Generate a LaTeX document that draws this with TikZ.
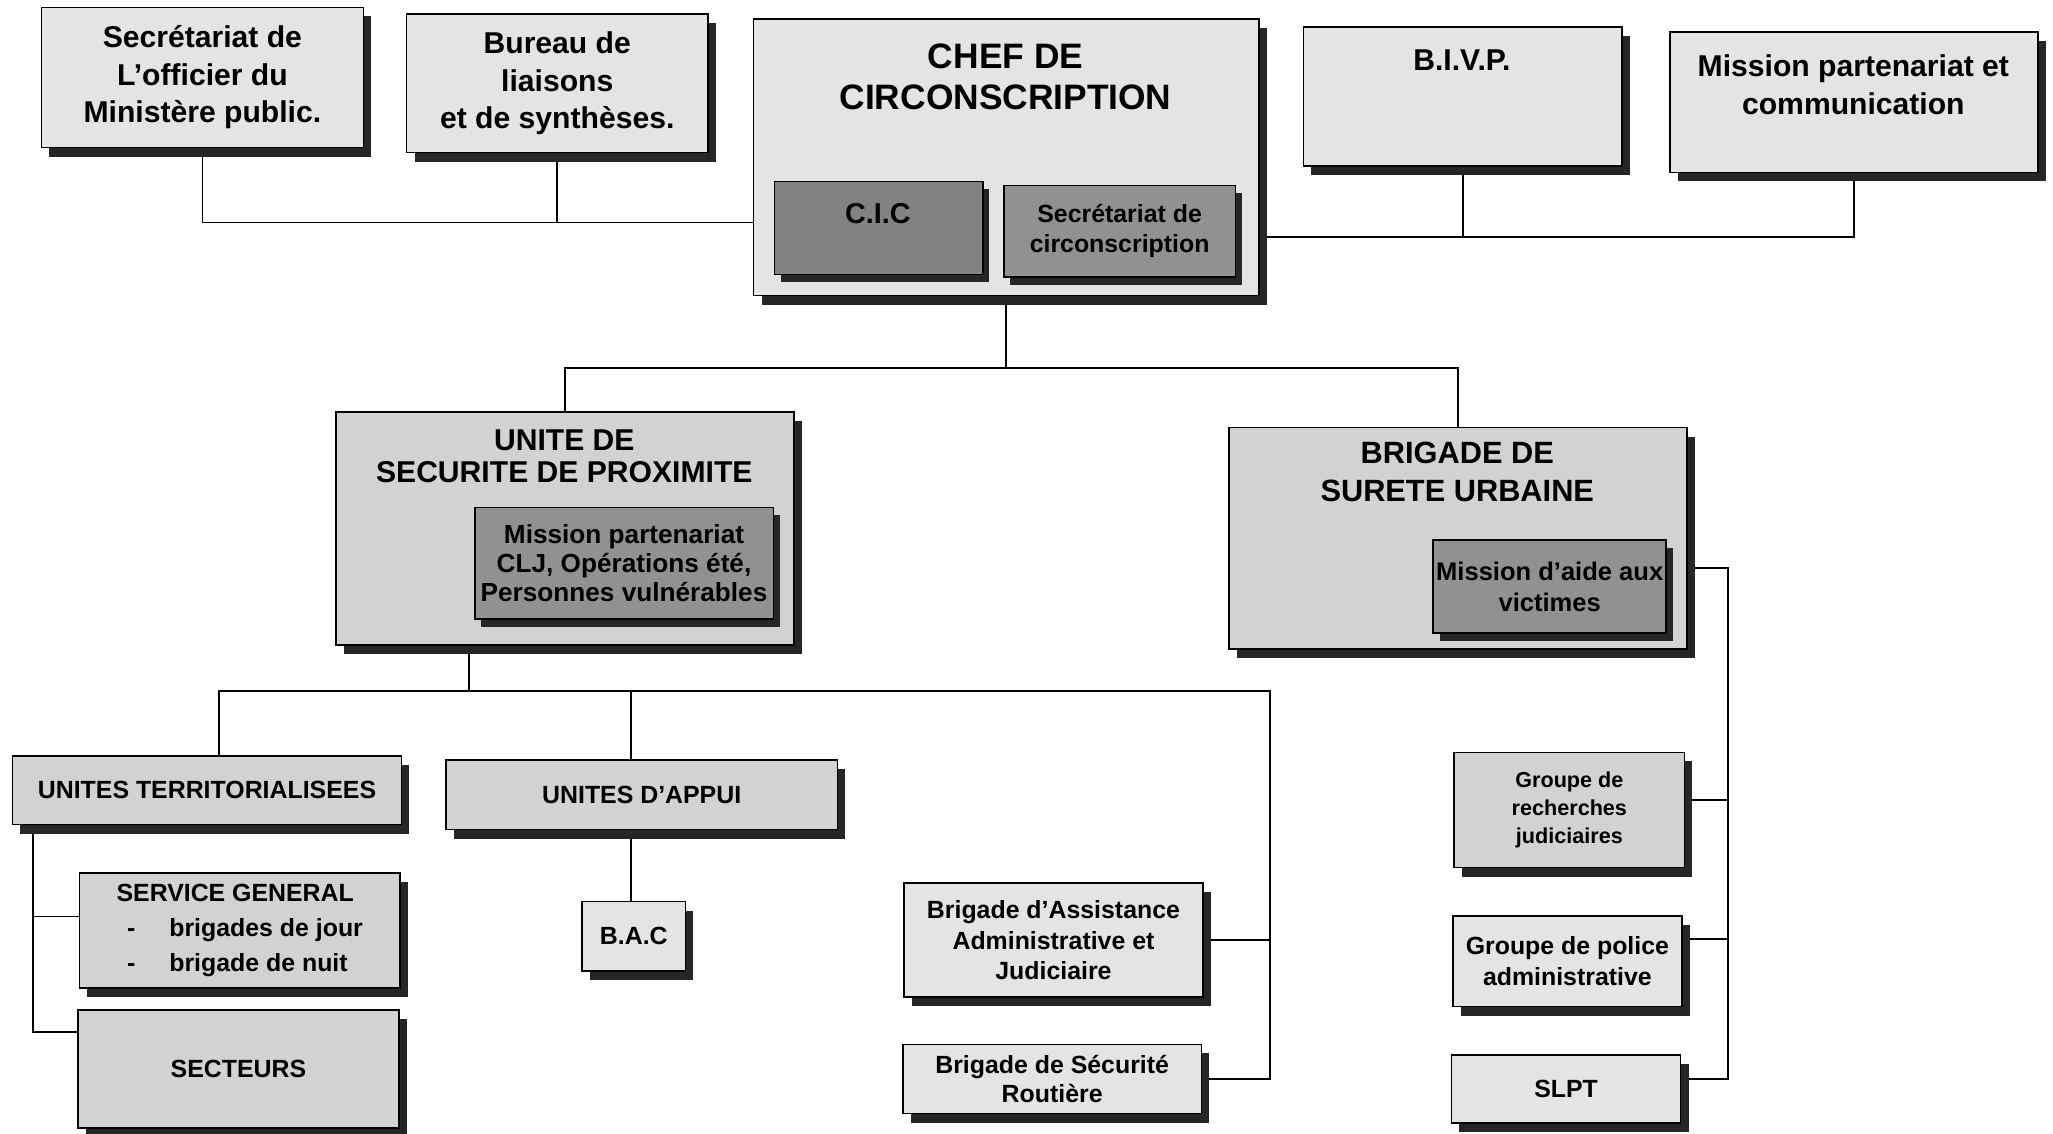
\documentclass[tikz,border=0pt]{standalone}
\usepackage{fontspec}
\setmainfont{Liberation Sans}
\usetikzlibrary{shadows,calc}
\pgfdeclarelayer{bg}
\pgfsetlayers{bg,main}
\definecolor{boxA}{RGB}{228,228,228}
\definecolor{boxB}{RGB}{210,210,210}
\definecolor{boxIn}{RGB}{145,145,145}
\newcommand\myfs[2]{\bfseries\fontsize{#1}{#2}\selectfont}
\tikzset{
  base/.style={draw=black, line width=1.2pt, anchor=north west, inner sep=2pt, align=center, text=black},
  shad/.style={drop shadow={shadow xshift=6pt,shadow yshift=-7pt,fill=black!85,opacity=1}},
  lbox/.style={base, shad, fill=boxA, font=\myfs{19}{23.5}},
  dbox/.style={base, shad, fill=boxB, font=\myfs{19}{23.5}},
  ibox/.style={base, drop shadow={shadow xshift=5pt,shadow yshift=-6pt,fill=black!85,opacity=1}, fill=boxIn, font=\myfs{19}{23}},
  lbl/.style={inner sep=0pt, align=center, font=\myfs{23}{29}},
  link/.style={line width=1.3pt, draw=black},
}
\begin{document}
\begin{tikzpicture}[x=1pt,y=-1pt]
\clip (0,0) rectangle (1568,866);
% top row
\node[lbox, minimum width=246pt, minimum height=107pt, font=\myfs{23}{28.5}] (A) at (31,5) {Secrétariat de\\L’officier du\\Ministère public.};
\node[lbox, minimum width=230pt, minimum height=106pt, font=\myfs{23}{28.5}] (B) at (310,10) {Bureau de\\liaisons\\et de synthèses.};
\node[lbox, minimum width=386pt, minimum height=211pt] (chef) at (575,14) {};
\node[lbl, font=\myfs{27}{31}] (chefT) at (768,58.5) {CHEF DE\\CIRCONSCRIPTION};
\node[ibox, fill=boxIn!90!black, minimum width=159pt, minimum height=71pt] (cic) at (591,138) {};
\node[lbl, font=\myfs{22}{26}] (cicT) at (670.5,163) {C.I.C};
\node[ibox, minimum width=177pt, minimum height=70pt] (secc) at (766,141) {Secrétariat de\\circonscription};
\node[lbox, minimum width=243pt, minimum height=106pt] (bivp) at (995,20) {};
\node[lbl] (bivpT) at (1116.5,46) {B.I.V.P.};
\node[lbox, minimum width=281pt, minimum height=107pt] (mpc) at (1275,24) {};
\node[lbl] (mpcT) at (1415.5,64.5) {Mission partenariat et\\communication};
% second level
\node[dbox, minimum width=350pt, minimum height=178pt] (usp) at (256,314) {};
\node[lbl, font=\myfs{23}{24}] (uspT) at (431,348.5) {UNITE DE\\SECURITE DE PROXIMITE};
\node[ibox, minimum width=228pt, minimum height=85pt, font=\myfs{20}{22}] (uspI) at (362,387) {Mission partenariat\\CLJ, Opérations été,\\Personnes vulnérables};
\node[dbox, minimum width=350pt, minimum height=169pt] (bsu) at (938,326) {};
\node[lbl, font=\myfs{23.5}{29.5}] (bsuT) at (1113,360.5) {BRIGADE DE\\SURETE URBAINE};
\node[ibox, minimum width=178pt, minimum height=71pt, font=\myfs{19.5}{24}] (bsuI) at (1094,412) {Mission d’aide aux\\victimes};
% third level
\node[dbox, minimum width=297pt, minimum height=52pt] (ut) at (9,577) {UNITES TERRITORIALISEES};
\node[dbox, minimum width=299pt, minimum height=53pt] (ua) at (340,580) {UNITES D’APPUI};
\node[dbox, minimum width=245pt, minimum height=88pt, align=left, font=\myfs{19}{26.5}] (sg) at (60,666) {SERVICE GENERAL\\\hspace*{8pt}-\hspace*{26pt}brigades de jour\\\hspace*{8pt}-\hspace*{26pt}brigade de nuit};
\node[dbox, minimum width=245pt, minimum height=90pt] (sec) at (59,771) {SECTEURS};
\node[lbox, minimum width=79pt, minimum height=53pt] (bac) at (444,688) {B.A.C};
\node[lbox, minimum width=228pt, minimum height=87pt] (baaj) at (690,674) {Brigade d’Assistance\\Administrative et\\Judiciaire};
\node[lbox, minimum width=228pt, minimum height=53pt, font=\myfs{19}{22}] (bsr) at (689,797) {Brigade de Sécurité\\Routière};
\node[dbox, minimum width=176pt, minimum height=88pt, font=\myfs{16.5}{21.5}] (grj) at (1110,574) {Groupe de\\recherches\\judiciaires};
\node[lbox, minimum width=175pt, minimum height=69pt] (gpa) at (1109,699) {Groupe de police\\administrative};
\node[lbox, minimum width=175pt, minimum height=52pt] (slpt) at (1108,805) {SLPT};
% junctions
\coordinate (jl) at (575,170);
\coordinate (jr) at (961,181);
\coordinate (j2) at ($(chef.south)+(0,55)$);
\coordinate (hL) at (167,528);
\coordinate (hR) at (970,528);
\coordinate (ua0) at (482,528);
\coordinate (utx) at (25,629);
\coordinate (bv) at (1320,434);
\begin{pgfonlayer}{bg}
\draw[link] (A.south) |- (jl);
\draw[link] (B.south) -- (B.south |- jl);
\draw[link] (jr) -| (mpc.south);
\draw[link] (bivp.south) -- (bivp.south |- jr);
\draw[link] (chef.south) -- (j2);
\draw[link] (usp.north) |- (j2) -| (bsu.north);
\draw[link] ($(usp.south west)+(102,0)$) coordinate (u1) -- (u1 |- hL);
\draw[link] (ut.north -| hL) -- (hL) -- (hR) |- (bsr.east);
\draw[link] (baaj.east) -- (baaj.east -| hR);
\draw[link] (ua.north -| ua0) -- (ua0);
\draw[link] (ua.south -| ua0) -- (bac.north -| ua0);
\draw[link] (ut.south -| utx) |- ($(sec.north west)+(0,17)$);
\draw[link] ($(sg.north west)+(0,34)$) coordinate (sgw) -- (sgw -| utx);
\draw[link] ($(bsu.north east)+(0,108)$) -- (bv) |- ($(slpt.north east)+(0,19)$);
\draw[link] ($(grj.north east)+(0,37)$) coordinate (g1) -- (g1 -| bv);
\draw[link] ($(gpa.north east)+(0,18)$) coordinate (g2) -- (g2 -| bv);
\end{pgfonlayer}
\end{tikzpicture}
\end{document}
